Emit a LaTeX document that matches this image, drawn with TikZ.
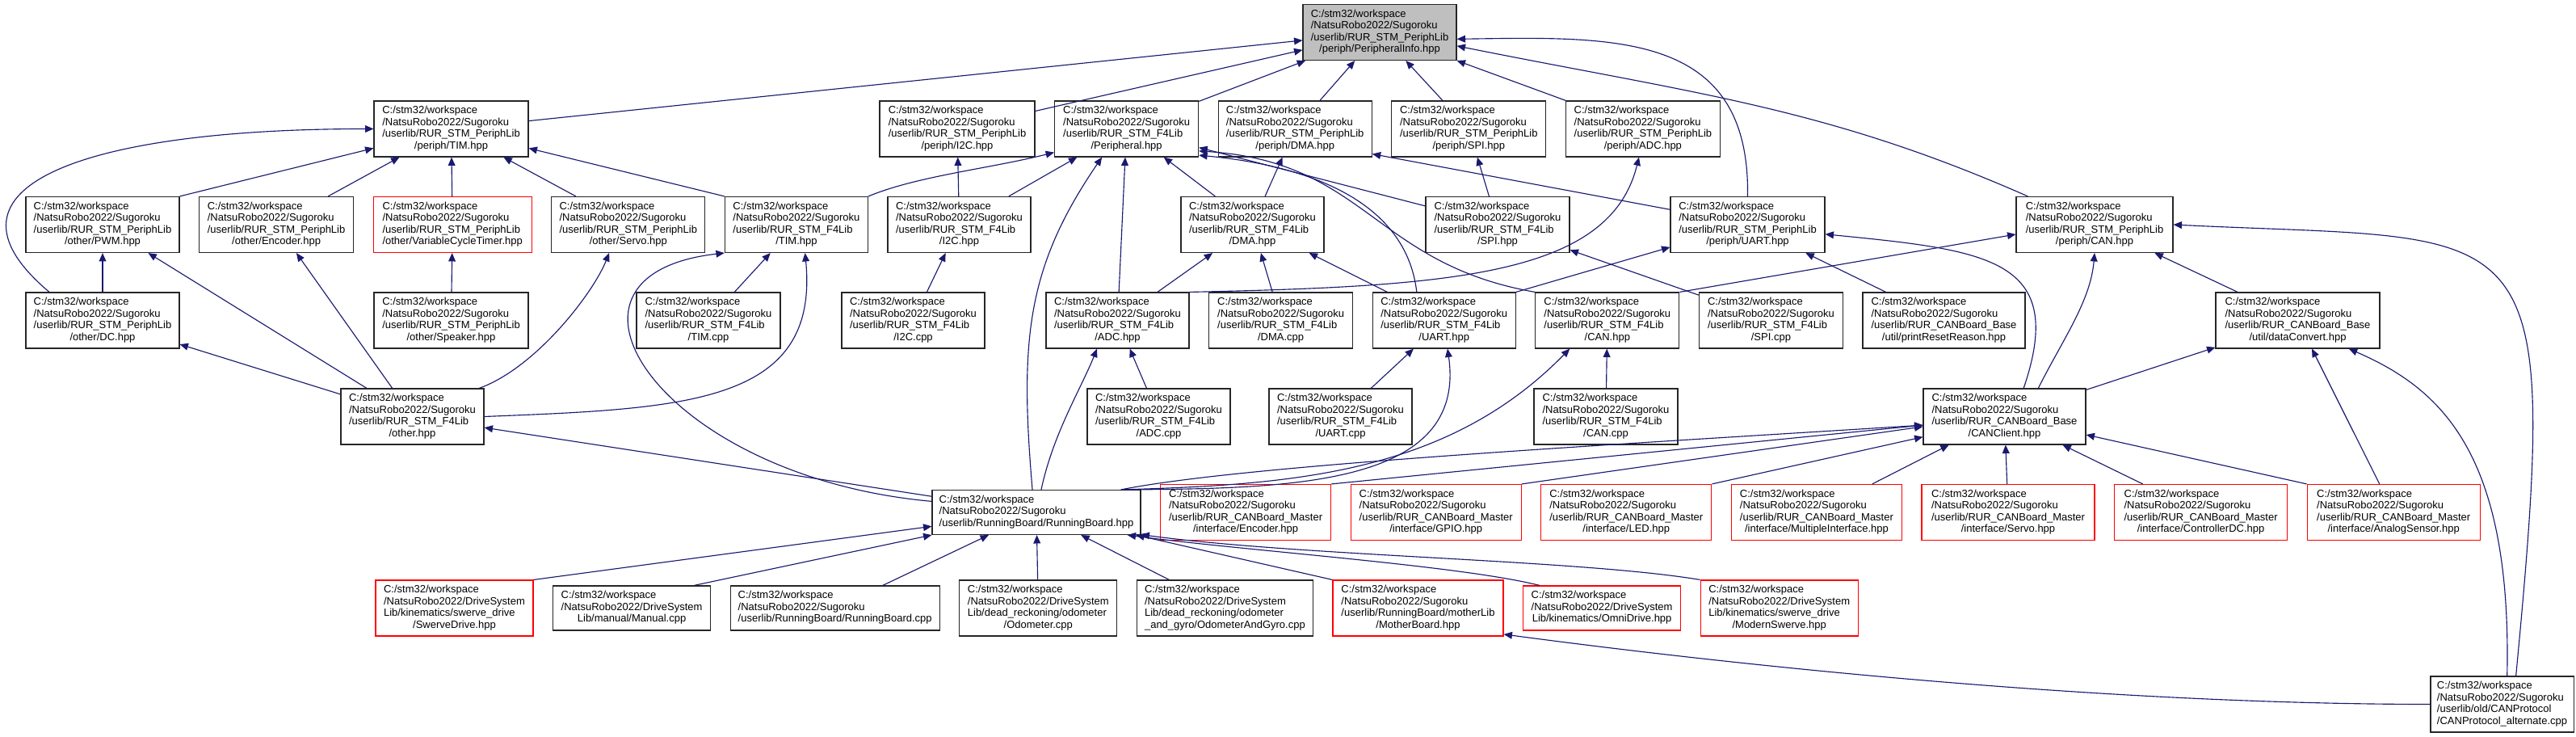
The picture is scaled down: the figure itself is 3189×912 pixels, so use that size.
\documentclass[tikz,border=0pt]{standalone}
\usepackage{fontspec}
\setmainfont{Liberation Sans}
\usepackage{xcolor}
\usepackage{tikz}
\usetikzlibrary{arrows.meta,positioning}
\definecolor{edgeblue}{HTML}{191970}
\definecolor{curgray}{HTML}{BFBFBF}
\newcommand{\pathtext}[2]{\begin{tabular}{@{}l@{}}#1\\\multicolumn{1}{@{}c@{}}{#2}\end{tabular}}

\begin{document}
\begin{tikzpicture}[x=0.75pt,y=-0.75pt,>={Triangle[length=7.8pt,width=6.6pt]},node distance=17.6pt,
 file/.style={draw=black!85,line width=0.85pt,fill=white,inner xsep=6pt,inner ysep=0pt,minimum height=51.75pt,font=\fontsize{9.75}{10.9}\selectfont},
 short/.style={file,minimum height=41.25pt},
 trunc/.style={draw=red},
 cur/.style={fill=curgray},
 wd/.style={minimum width=#1*0.75pt},
 line/.style={->,edgeblue,line width=0.85pt}]
\useasboundingbox (0,0) rectangle (3189,912);
\node[file,cur,wd=190] (info) at (1708,40) {\pathtext{C:/stm32/workspace\\/NatsuRobo2022/Sugoroku\\/userlib/RUR\_STM\_PeriphLib}{/periph/PeripheralInfo.hpp}};
\node[file,wd=191] (ptim) at (558.5,159.5) {\pathtext{C:/stm32/workspace\\/NatsuRobo2022/Sugoroku\\/userlib/RUR\_STM\_PeriphLib}{/periph/TIM.hpp}};
\node[file,wd=192] (pi2c) at (1185,159.5) {\pathtext{C:/stm32/workspace\\/NatsuRobo2022/Sugoroku\\/userlib/RUR\_STM\_PeriphLib}{/periph/I2C.hpp}};
\node[file,wd=178,right=of pi2c] (periph) {\pathtext{C:/stm32/workspace\\/NatsuRobo2022/Sugoroku\\/userlib/RUR\_STM\_F4Lib}{/Peripheral.hpp}};
\node[file,wd=190,right=of periph] (pdma) {\pathtext{C:/stm32/workspace\\/NatsuRobo2022/Sugoroku\\/userlib/RUR\_STM\_PeriphLib}{/periph/DMA.hpp}};
\node[file,wd=191,right=of pdma] (pspi) {\pathtext{C:/stm32/workspace\\/NatsuRobo2022/Sugoroku\\/userlib/RUR\_STM\_PeriphLib}{/periph/SPI.hpp}};
\node[file,wd=191,right=of pspi] (padc) {\pathtext{C:/stm32/workspace\\/NatsuRobo2022/Sugoroku\\/userlib/RUR\_STM\_PeriphLib}{/periph/ADC.hpp}};
\node[file,wd=190] (pwm) at (127,278) {\pathtext{C:/stm32/workspace\\/NatsuRobo2022/Sugoroku\\/userlib/RUR\_STM\_PeriphLib}{/other/PWM.hpp}};
\node[file,wd=191,right=of pwm] (oenc) {\pathtext{C:/stm32/workspace\\/NatsuRobo2022/Sugoroku\\/userlib/RUR\_STM\_PeriphLib}{/other/Encoder.hpp}};
\node[file,trunc,wd=196,right=of oenc] (vct) {\pathtext{C:/stm32/workspace\\/NatsuRobo2022/Sugoroku\\/userlib/RUR\_STM\_PeriphLib}{/other/VariableCycleTimer.hpp}};
\node[file,wd=190,right=of vct] (oservo) {\pathtext{C:/stm32/workspace\\/NatsuRobo2022/Sugoroku\\/userlib/RUR\_STM\_PeriphLib}{/other/Servo.hpp}};
\node[file,wd=177,right=of oservo] (ftim) {\pathtext{C:/stm32/workspace\\/NatsuRobo2022/Sugoroku\\/userlib/RUR\_STM\_F4Lib}{/TIM.hpp}};
\node[file,wd=177,right=of ftim] (fi2c) {\pathtext{C:/stm32/workspace\\/NatsuRobo2022/Sugoroku\\/userlib/RUR\_STM\_F4Lib}{/I2C.hpp}};
\node[file,wd=177] (fdma) at (1550.5,278) {\pathtext{C:/stm32/workspace\\/NatsuRobo2022/Sugoroku\\/userlib/RUR\_STM\_F4Lib}{/DMA.hpp}};
\node[file,wd=178] (fspi) at (1854,278) {\pathtext{C:/stm32/workspace\\/NatsuRobo2022/Sugoroku\\/userlib/RUR\_STM\_F4Lib}{/SPI.hpp}};
\node[file,wd=191] (puart) at (2163.5,278) {\pathtext{C:/stm32/workspace\\/NatsuRobo2022/Sugoroku\\/userlib/RUR\_STM\_PeriphLib}{/periph/UART.hpp}};
\node[file,wd=194] (pcan) at (2593,278) {\pathtext{C:/stm32/workspace\\/NatsuRobo2022/Sugoroku\\/userlib/RUR\_STM\_PeriphLib}{/periph/CAN.hpp}};
\node[file,wd=190] (dc) at (127,396.5) {\pathtext{C:/stm32/workspace\\/NatsuRobo2022/Sugoroku\\/userlib/RUR\_STM\_PeriphLib}{/other/DC.hpp}};
\node[file,wd=191] (speaker) at (558.5,396.5) {\pathtext{C:/stm32/workspace\\/NatsuRobo2022/Sugoroku\\/userlib/RUR\_STM\_PeriphLib}{/other/Speaker.hpp}};
\node[file,wd=178] (timcpp) at (877,396.5) {\pathtext{C:/stm32/workspace\\/NatsuRobo2022/Sugoroku\\/userlib/RUR\_STM\_F4Lib}{/TIM.cpp}};
\node[file,wd=177] (i2ccpp) at (1130.5,396.5) {\pathtext{C:/stm32/workspace\\/NatsuRobo2022/Sugoroku\\/userlib/RUR\_STM\_F4Lib}{/I2C.cpp}};
\node[file,wd=177] (fadc) at (1383.5,396.5) {\pathtext{C:/stm32/workspace\\/NatsuRobo2022/Sugoroku\\/userlib/RUR\_STM\_F4Lib}{/ADC.hpp}};
\node[file,wd=178,right=of fadc] (dmacpp) {\pathtext{C:/stm32/workspace\\/NatsuRobo2022/Sugoroku\\/userlib/RUR\_STM\_F4Lib}{/DMA.cpp}};
\node[file,wd=177,right=of dmacpp] (fuart) {\pathtext{C:/stm32/workspace\\/NatsuRobo2022/Sugoroku\\/userlib/RUR\_STM\_F4Lib}{/UART.hpp}};
\node[file,wd=178,right=of fuart] (fcan) {\pathtext{C:/stm32/workspace\\/NatsuRobo2022/Sugoroku\\/userlib/RUR\_STM\_F4Lib}{/CAN.hpp}};
\node[file,wd=178,right=of fcan] (spicpp) {\pathtext{C:/stm32/workspace\\/NatsuRobo2022/Sugoroku\\/userlib/RUR\_STM\_F4Lib}{/SPI.cpp}};
\node[file,wd=201,right=of spicpp] (prr) {\pathtext{C:/stm32/workspace\\/NatsuRobo2022/Sugoroku\\/userlib/RUR\_CANBoard\_Base}{/util/printResetReason.hpp}};
\node[file,wd=203] (dconv) at (2844.5,396.5) {\pathtext{C:/stm32/workspace\\/NatsuRobo2022/Sugoroku\\/userlib/RUR\_CANBoard\_Base}{/util/dataConvert.hpp}};
\node[file,wd=177] (other) at (510.5,515.5) {\pathtext{C:/stm32/workspace\\/NatsuRobo2022/Sugoroku\\/userlib/RUR\_STM\_F4Lib}{/other.hpp}};
\node[file,wd=177] (adccpp) at (1434.5,515.5) {\pathtext{C:/stm32/workspace\\/NatsuRobo2022/Sugoroku\\/userlib/RUR\_STM\_F4Lib}{/ADC.cpp}};
\node[file,wd=177] (uartcpp) at (1659.5,515.5) {\pathtext{C:/stm32/workspace\\/NatsuRobo2022/Sugoroku\\/userlib/RUR\_STM\_F4Lib}{/UART.cpp}};
\node[file,wd=178] (cancpp) at (1988,515.5) {\pathtext{C:/stm32/workspace\\/NatsuRobo2022/Sugoroku\\/userlib/RUR\_STM\_F4Lib}{/CAN.cpp}};
\node[file,wd=201] (canclient) at (2481.5,515.5) {\pathtext{C:/stm32/workspace\\/NatsuRobo2022/Sugoroku\\/userlib/RUR\_CANBoard\_Base}{/CANClient.hpp}};
\node[short,wd=258] (rbhpp) at (1283,634) {\pathtext{C:/stm32/workspace\\/NatsuRobo2022/Sugoroku}{/userlib/RunningBoard/RunningBoard.hpp}};
\node[file,trunc,wd=211,right=of rbhpp] (ienc) {\pathtext{C:/stm32/workspace\\/NatsuRobo2022/Sugoroku\\/userlib/RUR\_CANBoard\_Master}{/interface/Encoder.hpp}};
\node[file,trunc,wd=211,right=of ienc] (igpio) {\pathtext{C:/stm32/workspace\\/NatsuRobo2022/Sugoroku\\/userlib/RUR\_CANBoard\_Master}{/interface/GPIO.hpp}};
\node[file,trunc,wd=211,right=of igpio] (iled) {\pathtext{C:/stm32/workspace\\/NatsuRobo2022/Sugoroku\\/userlib/RUR\_CANBoard\_Master}{/interface/LED.hpp}};
\node[file,trunc,wd=211,right=of iled] (imulti) {\pathtext{C:/stm32/workspace\\/NatsuRobo2022/Sugoroku\\/userlib/RUR\_CANBoard\_Master}{/interface/MultipleInterface.hpp}};
\node[file,trunc,wd=214,right=of imulti] (iservo) {\pathtext{C:/stm32/workspace\\/NatsuRobo2022/Sugoroku\\/userlib/RUR\_CANBoard\_Master}{/interface/Servo.hpp}};
\node[file,trunc,wd=214,right=of iservo] (icdc) {\pathtext{C:/stm32/workspace\\/NatsuRobo2022/Sugoroku\\/userlib/RUR\_CANBoard\_Master}{/interface/ControllerDC.hpp}};
\node[file,trunc,wd=214,right=of icdc] (ianalog) {\pathtext{C:/stm32/workspace\\/NatsuRobo2022/Sugoroku\\/userlib/RUR\_CANBoard\_Master}{/interface/AnalogSensor.hpp}};
\node[file,trunc,wd=195] (swerve) at (562.5,752.5) {\pathtext{C:/stm32/workspace\\/NatsuRobo2022/DriveSystem\\Lib/kinematics/swerve\_drive}{/SwerveDrive.hpp}};
\node[short,wd=195,right=of swerve] (manual) {\pathtext{C:/stm32/workspace\\/NatsuRobo2022/DriveSystem}{Lib/manual/Manual.cpp}};
\node[short,wd=259,right=of manual] (rbcpp) {\pathtext{C:/stm32/workspace\\/NatsuRobo2022/Sugoroku}{/userlib/RunningBoard/RunningBoard.cpp}};
\node[file,wd=195,right=of rbcpp] (odo) {\pathtext{C:/stm32/workspace\\/NatsuRobo2022/DriveSystem\\Lib/dead\_reckoning/odometer}{/Odometer.cpp}};
\node[file,wd=218,right=of odo] (odogyro) {\pathtext{C:/stm32/workspace\\/NatsuRobo2022/DriveSystem\\Lib/dead\_reckoning/odometer}{\_and\_gyro/OdometerAndGyro.cpp}};
\node[file,trunc,wd=211,right=of odogyro] (mother) {\pathtext{C:/stm32/workspace\\/NatsuRobo2022/Sugoroku\\/userlib/RunningBoard/motherLib}{/MotherBoard.hpp}};
\node[short,trunc,wd=195,right=of mother] (omni) {\pathtext{C:/stm32/workspace\\/NatsuRobo2022/DriveSystem}{Lib/kinematics/OmniDrive.hpp}};
\node[file,trunc,wd=195,right=of omni] (modern) {\pathtext{C:/stm32/workspace\\/NatsuRobo2022/DriveSystem\\Lib/kinematics/swerve\_drive}{/ModernSwerve.hpp}};
\node[file,wd=177] (canproto) at (3097.5,871.5) {\pathtext{C:/stm32/workspace\\/NatsuRobo2022/Sugoroku\\/userlib/old/CANProtocol}{/CANProtocol\_alternate.cpp}};
\draw[line] (ptim) -- (info);
\draw[line] (pi2c) -- (info);
\draw[line] (periph) -- (info);
\draw[line] (pdma) -- (info);
\draw[line] (pspi) -- (info);
\draw[line] (padc) -- (info);
\draw[line] (puart.north) .. controls +(3,-204) and +(197,-3) .. (info.-5);
\draw[line] (pcan.157) .. controls +(-250,-110) and +(300,60) .. (info.-10);
\draw[line] (pwm.north east) -- (ptim);
\draw[line] (oenc) -- (ptim);
\draw[line] (vct) -- (ptim);
\draw[line] (oservo) -- (ptim);
\draw[line] (ftim.north west) -- (ptim.-14);
\draw[line] (dc.152) .. controls +(-157,-132) and +(-353,0) .. (ptim.west);
\draw[line] (fi2c) -- (pi2c);
\draw[line] (ftim.north east) .. controls +(60,-25) and +(-80,20) .. (periph.198);
\draw[line] (fi2c) -- (periph);
\draw[line] (rbhpp.100) .. controls +(-16,-186) and +(-93,136) .. (periph.229);
\draw[line] (fadc) -- (periph);
\draw[line] (fdma) -- (periph);
\draw[line] (fspi) -- (periph);
\draw[line] (fuart.134) .. controls +(-13,-112) and +(137,13) .. (periph.-20);
\draw[line] (fcan.north west) .. controls +(-200,-35) and +(207,13) .. (periph.-17);
\draw[line] (fdma) -- (pdma);
\draw[line] (puart.169) -- (pdma.-18);
\draw[line] (fspi) -- (pspi);
\draw[line] (fadc.north east) .. controls +(328,-7) and +(-36,146) .. (padc.262);
\draw[line] (dc) -- (pwm);
\draw[line] (other) -- (pwm);
\draw[line] (other) -- (oenc);
\draw[line] (speaker) -- (vct);
\draw[line] (other.23) .. controls +(70,-25) and +(-20,50) .. (oservo.236);
\draw[line] (timcpp) -- (ftim);
\draw[line] (other.east) .. controls +(251,-10) and +(18,187) .. (ftim.-73);
\draw[line] (rbhpp.174) .. controls +(-334,-30) and +(-245,28) .. (ftim.south west);
\draw[line] (i2ccpp) -- (fi2c);
\draw[line] (fadc) -- (fdma);
\draw[line] (dmacpp) -- (fdma);
\draw[line] (fuart) -- (fdma);
\draw[line] (spicpp) -- (fspi);
\draw[line] (fuart.north east) -- (puart);
\draw[line] (prr) -- (puart);
\draw[line] (canclient.56) .. controls +(55,-161) and +(201,20) .. (puart.-7);
\draw[line] (fcan.north east) -- (pcan.187);
\draw[line] (canclient.40) .. controls +(30,-60) and +(-5,60) .. (pcan.south);
\draw[line] (dconv) -- (pcan);
\draw[line] (canproto.64) .. controls +(56,-587) and +(450,22) .. (pcan.east);
\draw[line] (other) -- (dc);
\draw[line] (adccpp) -- (fadc);
\draw[line] (rbhpp.78) .. controls +(15,-70) and +(-20,50) .. (fadc.234);
\draw[line] (uartcpp) -- (fuart);
\draw[line] (rbhpp.15) .. controls +(214,-1) and +(24,169) .. (fuart.-83);
\draw[line] (cancpp) -- (fcan);
\draw[line] (rbhpp.15) .. controls +(214,-6) and +(-151,154) .. (fcan.217);
\draw[line] (canclient) -- (dconv);
\draw[line] (ianalog) -- (dconv);
\draw[line] (canproto.80) .. controls +(6,-277) and +(113,49) .. (dconv.-29);
\draw[line] (rbhpp) -- (other);
\draw[line] (rbhpp.15) .. controls +(150,-30) and +(-400,25) .. (canclient.186);
\draw[line] (ienc.north east) -- (canclient.186);
\draw[line] (igpio.north east) -- (canclient.187);
\draw[line] (iled.north east) -- (canclient.194);
\draw[line] (imulti) -- (canclient);
\draw[line] (iservo) -- (canclient);
\draw[line] (icdc) -- (canclient);
\draw[line] (ianalog.north west) -- (canclient);
\draw[line] (swerve.north east) -- (rbhpp);
\draw[line] (manual.20) -- (rbhpp.south west);
\draw[line] (rbcpp) -- (rbhpp);
\draw[line] (odo) -- (rbhpp);
\draw[line] (odogyro) -- (rbhpp);
\draw[line] (mother.north west) -- (rbhpp);
\draw[line] (omni.160) .. controls +(-100,-25) and +(150,20) .. (rbhpp.-14);
\draw[line] (modern.north west) .. controls +(-150,-25) and +(200,27) .. (rbhpp.-12);
\draw[line] (canproto.west) .. controls +(-400,0) and +(300,40) .. (mother.-17);
\end{tikzpicture}
\end{document}
